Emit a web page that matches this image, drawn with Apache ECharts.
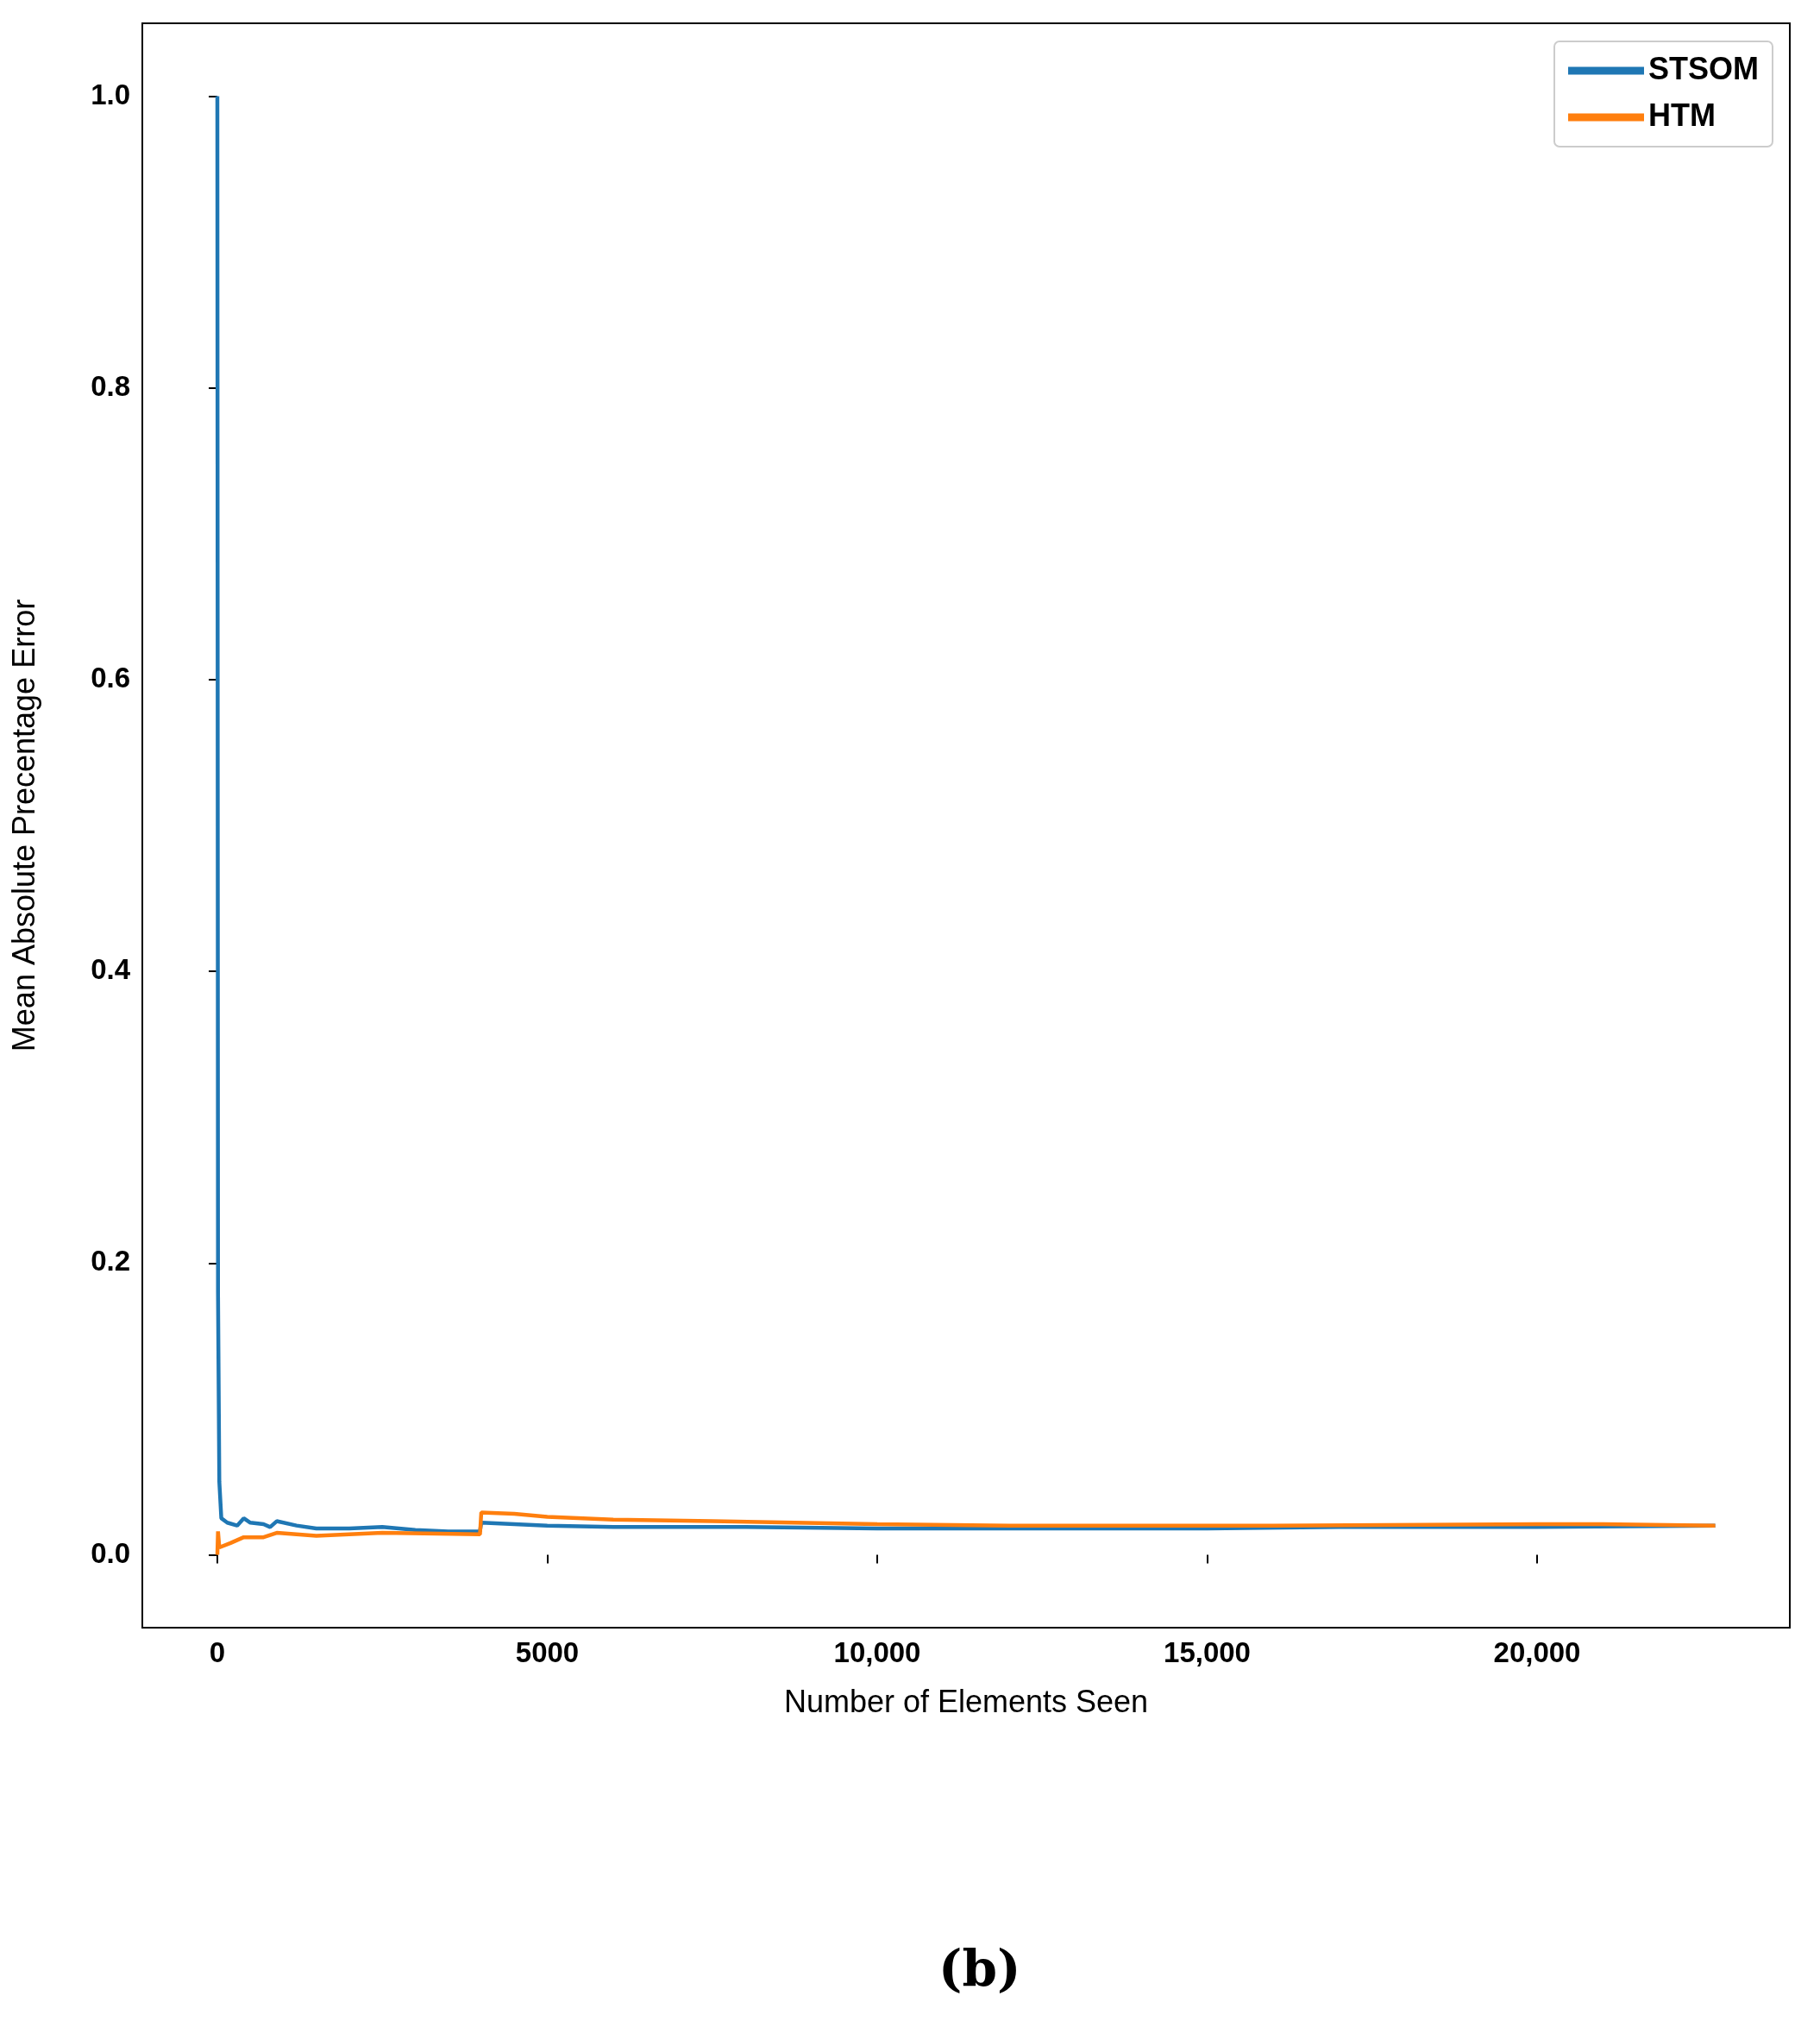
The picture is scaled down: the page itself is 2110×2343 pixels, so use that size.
<!DOCTYPE html>
<html><head><meta charset="utf-8">
<script src="https://cdn.jsdelivr.net/npm/echarts@6/dist/echarts.min.js"></script>
<style>html,body{margin:0;padding:0;background:#fff}#c{width:2110px;height:2343px}</style>
</head><body><div id="c"></div>
<script>
const stsomX = [0,10,30,60,150,300,400,500,700,800,900,1200,1500,2000,2500,3000,3500,3980,4000,4500,5000,6000,8000,10000,12000,15000,17000,20000,22700];
const stsomY = [1.0,0.18,0.05,0.025,0.022,0.02,0.025,0.022,0.021,0.019,0.023,0.02,0.018,0.018,0.019,0.017,0.016,0.016,0.022,0.021,0.02,0.019,0.019,0.018,0.018,0.018,0.019,0.019,0.02];
const htmX = [0,10,30,200,400,700,900,1500,2500,3980,4000,4500,5000,6000,7500,10000,12000,16000,20000,21000,22700];
const htmY = [0.0,0.016,0.005,0.008,0.012,0.012,0.015,0.013,0.015,0.014,0.029,0.028,0.026,0.024,0.023,0.021,0.02,0.02,0.021,0.021,0.02];
const xTicks = [0,5000,10000,15000,20000];
const yTicks = [0,0.2,0.4,0.6,0.8,1.0];
const font = 'Liberation Sans, Arial, sans-serif';
const chart = echarts.init(document.getElementById('c'));
chart.setOption({
  animation:false,
  grid:{left:165,right:35,top:27,bottom:456,show:true,borderColor:'#000',borderWidth:2},
  legend:{right:55,top:48,orient:'vertical',itemWidth:88,itemHeight:20,itemGap:18,padding:[16,16,16,16],
    borderColor:'#ccc',borderWidth:2,borderRadius:6,
    textStyle:{fontFamily:font,fontWeight:'bold',fontSize:36,color:'#000'},
    icon:'path://M0,0 L10,0 L10,1 L0,1 Z'},
  xAxis:{type:'value',min:-1137,max:23830,
    name:'Number of Elements Seen',nameLocation:'middle',nameGap:70,
    nameTextStyle:{fontFamily:font,fontSize:36,color:'#000'},
    axisLine:{show:false},splitLine:{show:false},
    axisTick:{show:true,length:10,lineStyle:{color:'#000',width:2},customValues:xTicks},
    axisLabel:{fontFamily:font,fontWeight:'bold',fontSize:33,color:'#000',margin:14,customValues:xTicks,
      formatter:v=>v>=10000?v.toLocaleString('en-US'):String(v)}},
  yAxis:{type:'value',min:-0.05,max:1.05,
    name:'Mean Absolute Precentage Error',nameLocation:'middle',nameGap:117,
    nameTextStyle:{fontFamily:font,fontSize:36,color:'#000'},
    axisLine:{show:false},splitLine:{show:false},
    axisTick:{show:true,length:10,lineStyle:{color:'#000',width:2},customValues:yTicks},
    axisLabel:{fontFamily:font,fontWeight:'bold',fontSize:33,color:'#000',margin:14,customValues:yTicks,
      formatter:v=>v.toFixed(1)}},
  series:[
    {name:'STSOM',type:'line',showSymbol:false,color:'#1f77b4',lineStyle:{width:4.5},
      data:stsomX.map((x,i)=>[x,stsomY[i]])},
    {name:'HTM',type:'line',showSymbol:false,color:'#ff7f0e',lineStyle:{width:4.5},
      data:htmX.map((x,i)=>[x,htmY[i]])}
  ],
  graphic:[{type:'text',left:1088,top:2258,style:{text:'(b)',font:'bold 58px "DejaVu Serif", "Liberation Serif", serif',fill:'#000',textAlign:'center'}}]
});
</script></body></html>
